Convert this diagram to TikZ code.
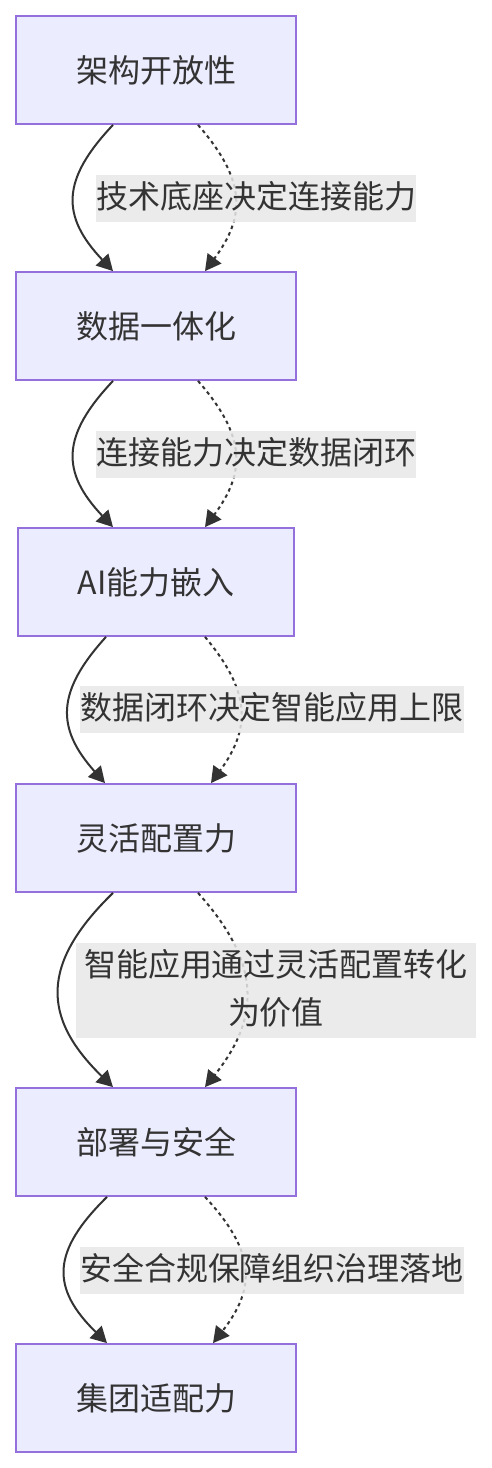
\documentclass[tikz,border=0pt]{standalone}
\usepackage{fontspec}
\newfontfamily\cjk{Noto Sans CJK SC}
\usetikzlibrary{arrows.meta,calc}
\definecolor{nodefill}{HTML}{ECECFF}
\definecolor{nodeline}{HTML}{9370DB}
\definecolor{ink}{HTML}{333333}
\definecolor{labelbg}{HTML}{E8E8E8}
\begin{document}
\begin{tikzpicture}[x=1pt,y=-1pt,
  box/.style={draw=nodeline,fill=nodefill,line width=1.8pt,minimum width=280pt,minimum height=108pt,inner sep=0pt,font=\cjk\fontsize{32}{48}\selectfont,text=ink},
  lbl/.style={fill=labelbg,fill opacity=0.85,text opacity=1,inner sep=0pt,font=\cjk\fontsize{32}{48}\selectfont,text=ink,align=center,text height=34pt,text depth=13pt},
  edge/.style={draw=ink,line width=2pt,-{Triangle[length=16pt,width=17pt]}},
  dedge/.style={edge,dash pattern=on 3.5pt off 3.5pt}]
\useasboundingbox (0,0) rectangle (492,1468);
\node[box] (n1) at (156,70) {架构开放性};
\node[box] (n2) at (156,326) {数据一体化};
\node[box,minimum width=276pt] (n3) at (156,582) {AI能力嵌入};
\node[box] (n4) at (156,838) {灵活配置力};
\node[box] (n5) at (156,1142) {部署与安全};
\node[box] (n6) at (156,1398) {集团适配力};
% edge 1
\draw[edge] ($(n1.south)+(-43,0)$) .. controls ($(n1.south)+(-95,55)$) and ($(n2.north)+(-95,-55)$) .. ($(n2.north)+(-43,0)$);
\draw[dedge] ($(n1.south)+(42,0)$) .. controls ($(n1.south)+(90,55)$) and ($(n2.north)+(90,-55)$) .. ($(n2.north)+(49,0)$);
\node[lbl] (l1) at (256,198) {技术底座决定连接能力};
% edge 2
\draw[edge] ($(n2.south)+(-43,0)$) .. controls ($(n2.south)+(-95,55)$) and ($(n3.north)+(-95,-55)$) .. ($(n3.north)+(-43,0)$);
\draw[dedge] ($(n2.south)+(42,0)$) .. controls ($(n2.south)+(90,55)$) and ($(n3.north)+(90,-55)$) .. ($(n3.north)+(49,0)$);
\node[lbl] (l2) at (256,454) {连接能力决定数据闭环};
% edge 3
\draw[edge] ($(n3.south)+(-50,0)$) .. controls ($(n3.south)+(-100,55)$) and ($(n4.north)+(-100,-55)$) .. ($(n4.north)+(-51,0)$);
\draw[dedge] ($(n3.south)+(49,0)$) .. controls ($(n3.south)+(95,55)$) and ($(n4.north)+(95,-55)$) .. ($(n4.north)+(55,0)$);
\node[lbl] (l3) at (272,709) {数据闭环决定智能应用上限};
% edge 4
\draw[edge] ($(n4.south)+(-43,0)$) .. controls ($(n4.south)+(-115,70)$) and ($(n5.north)+(-115,-70)$) .. ($(n5.north)+(-43,0)$);
\draw[dedge] ($(n4.south)+(42,0)$) .. controls ($(n4.south)+(105,70)$) and ($(n5.north)+(105,-70)$) .. ($(n5.north)+(49,0)$);
\node[lbl,minimum width=400pt,text height=82pt] (l4) at (276,990) {智能应用通过灵活配置转化\\为价值};
% edge 5
\draw[edge] ($(n5.south)+(-49,0)$) .. controls ($(n5.south)+(-105,55)$) and ($(n6.north)+(-105,-55)$) .. ($(n6.north)+(-49,0)$);
\draw[dedge] ($(n5.south)+(49,0)$) .. controls ($(n5.south)+(100,55)$) and ($(n6.north)+(100,-55)$) .. ($(n6.north)+(57,0)$);
\node[lbl] (l5) at (272,1270) {安全合规保障组织治理落地};
\end{tikzpicture}
\end{document}
